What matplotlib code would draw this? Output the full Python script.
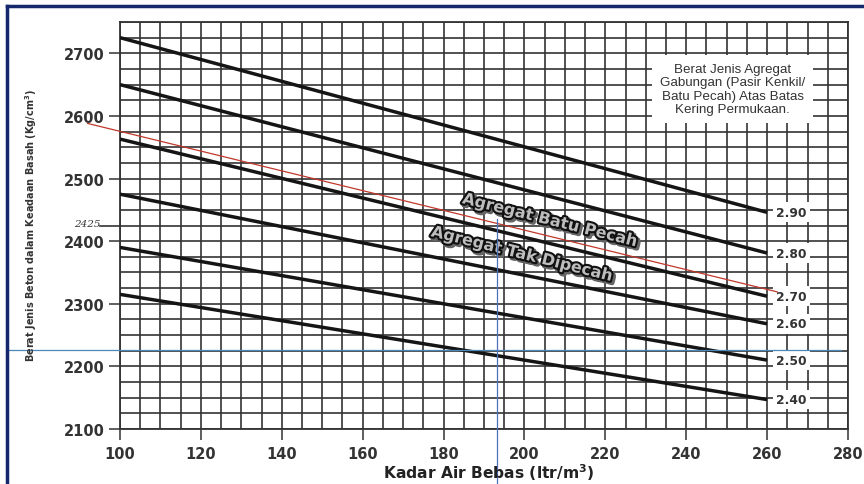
import matplotlib
matplotlib.use("Agg")
import matplotlib.pyplot as plt
import matplotlib.patheffects as pe
from matplotlib.lines import Line2D
import numpy as np

# ---- data ----
specific_gravity = ["2.90", "2.80", "2.70", "2.60", "2.50", "2.40"]
water_start = 100
water_end = 260
density_at_100 = [2725, 2650, 2563, 2475, 2390, 2315]
density_at_260 = [2446, 2381, 2312, 2268, 2210, 2147]

x_ticks = [100, 120, 140, 160, 180, 200, 220, 240, 260, 280]
y_ticks = [2100, 2200, 2300, 2400, 2500, 2600, 2700]

red_line_x = [92, 262.5]
red_line_y = [2588, 2319]
blue_h_y = 2226
blue_v_x = 193.3
mark_value = 2425

box_text = ("Berat Jenis Agregat\nGabungan (Pasir Kenkil/\n"
            "Batu Pecah) Atas Batas\nKering Permukaan.")

fig = plt.figure(figsize=(8.64, 4.85), dpi=100)
ax = fig.add_axes([120/864, 1-430/485, (848-120)/864, (430-23)/485])

ax.set_xlim(100, 280)
ax.set_ylim(2100, 2750)

# grid
ax.set_xticks(x_ticks)
ax.set_yticks(y_ticks)
ax.set_xticks(np.arange(100, 281, 5), minor=True)
ax.set_yticks(np.arange(2100, 2751, 25), minor=True)
ax.grid(which="both", color="#333333", linewidth=1.2, zorder=0)
ax.set_axisbelow(True)
ax.tick_params(which="minor", length=0)
ax.tick_params(which="major", direction="out", length=8, width=1.1,
               color="#333333", labelsize=10.5, labelcolor="#333333", pad=3)
ax.tick_params(axis="x", which="major", pad=4)
for lab in ax.get_xticklabels() + ax.get_yticklabels():
    lab.set_fontweight("bold")
for s in ax.spines.values():
    s.set_color("#333333")
    s.set_linewidth(1.3)

# curves
for lbl, y0, y1 in zip(specific_gravity, density_at_100, density_at_260):
    ax.plot([water_start, water_end], [y0, y1], color="#151515", lw=2.5,
            solid_capstyle="butt", zorder=3)
    ax.text(266, y1, lbl, ha="center", va="center", fontsize=8.8,
            fontweight="bold", color="#333333", zorder=4,
            bbox=dict(facecolor="white", edgecolor="none", pad=2.5))

# legend box text
ax.text(251.5, 2643, box_text, ha="center", va="center", fontsize=9.6,
        family="Liberation Sans", color="#333333", linespacing=1.15, zorder=4,
        bbox=dict(boxstyle="square,pad=0.6", facecolor="white", edgecolor="none"))

# embossed labels
effects = [pe.Stroke(offset=(1.5, -1.5), linewidth=3.5, foreground="#666666"),
           pe.Stroke(linewidth=3.0, foreground="#111111"),
           pe.Normal()]
ax.text(206.4, 2433, "Agregat Batu Pecah", rotation=-14, ha="center",
        va="center", fontsize=11.5, fontweight="heavy",
        color="#bdbdbd", path_effects=effects, zorder=5)
ax.text(199.5, 2379, "Agregat Tak Dipecah", rotation=-14, ha="center",
        va="center", fontsize=11.5, fontweight="heavy",
        color="#bdbdbd", path_effects=effects, zorder=5)

# red overlay line
ax.plot(red_line_x, red_line_y, color="#c0392b", lw=0.9, clip_on=False, zorder=6)

# blue construction lines
ax.plot([72, 278.2], [blue_h_y, blue_h_y], color="#4f86b8", lw=0.9,
        clip_on=False, zorder=6)
ax.plot([blue_v_x, blue_v_x], [2435, 2012], color="#4f6fb8", lw=0.9,
        clip_on=False, zorder=6)

# handwritten mark
ax.plot([95, 100], [mark_value, mark_value], color="#333333", lw=1.2, clip_on=False)
ax.text(91.8, mark_value + 3, "2425", ha="center", va="center", fontsize=7.5,
        style="italic", color="#333333", family="DejaVu Serif")

# axis labels
fig.text(489/864, 1-473/485, "Kadar Air Bebas (ltr/m$^\\mathbf{3}$)", fontsize=11.2,
         ha="center", va="center", fontweight="bold", color="#222222")
fig.text(31/864, 1-225/485, "Berat Jenis Beton dalam Keadaan Basah (Kg/cm$^\\mathbf{3}$)",
         rotation=90, ha="center", va="center", fontsize=7.0,
         fontweight="bold", color="#333333")

# navy frame
fig.add_artist(Line2D([7/864, 7/864], [0, 1-7/485], color="#14286b", lw=2.5))
fig.add_artist(Line2D([7/864, 1], [1-7/485, 1-7/485], color="#14286b", lw=2.5))

fig.savefig("out.png", dpi=100)
